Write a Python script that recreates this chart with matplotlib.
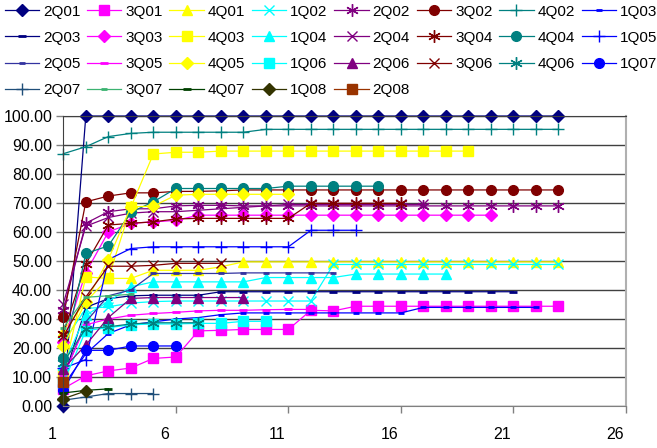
import matplotlib
matplotlib.use("Agg")
import matplotlib.pyplot as plt
import matplotlib.transforms as mtransforms
from matplotlib.ticker import FuncFormatter

# ---------------- data ----------------
labels = ['2Q01', '3Q01', '4Q01', '1Q02', '2Q02', '3Q02', '4Q02', '1Q03',
          '2Q03', '3Q03', '4Q03', '1Q04', '2Q04', '3Q04', '4Q04', '1Q05',
          '2Q05', '3Q05', '4Q05', '1Q06', '2Q06', '3Q06', '4Q06', '1Q07',
          '2Q07', '3Q07', '4Q07', '1Q08', '2Q08']

v_2Q01 = [0.0, 100, 100, 100, 100, 100, 100, 100, 100, 100, 100, 100, 100, 100, 100, 100, 100, 100, 100, 100, 100, 100, 100]
v_3Q01 = [6.0, 10.4, 12.1, 13.1, 16.4, 16.9, 25.9, 26.1, 26.4, 26.4, 26.4, 33.0, 32.8, 34.4, 34.4, 34.4, 34.4, 34.4, 34.4, 34.4, 34.4, 34.4, 34.4]
v_4Q01 = [26.0, 36.0, 44.0, 44.0, 46.8, 46.8, 46.8, 48.0, 49.7, 49.7, 49.7, 49.7, 49.7, 49.7, 49.7, 49.7, 49.7, 49.7, 49.7, 49.7, 49.7, 49.7, 49.7]
v_1Q02 = [22.0, 33.6, 34.2, 35.5, 36.0, 36.2, 36.2, 36.2, 36.2, 36.2, 36.2, 36.2, 48.8, 48.8, 48.8, 48.8, 48.8, 48.8, 48.8, 48.8, 48.8, 48.8, 48.8]
v_2Q02 = [33.0, 63.0, 67.0, 68.0, 68.0, 69.0, 69.2, 69.2, 69.0, 69.0, 69.0, 69.0, 69.0, 69.0, 69.0, 69.0, 69.0, 69.0, 69.0, 69.0, 69.0, 69.0, 69.0]
v_3Q02 = [30.7, 70.4, 72.4, 73.5, 73.5, 74.0, 74.0, 74.2, 74.5, 74.5, 74.5, 74.5, 74.5, 74.5, 74.5, 74.5, 74.5, 74.5, 74.5, 74.5, 74.5, 74.5, 74.5]
v_4Q02 = [87.0, 89.4, 92.9, 94.0, 94.4, 94.4, 94.4, 94.4, 94.4, 95.4, 95.4, 95.4, 95.4, 95.4, 95.4, 95.4, 95.4, 95.4, 95.4, 95.4, 95.4, 95.4, 95.4]
v_1Q03 = [7.0, 18.0, 25.0, 28.0, 29.0, 30.0, 30.5, 31.5, 32.1, 32.1, 32.1, 32.1, 32.1, 32.1, 32.1, 32.1, 34.0, 34.0, 34.0, 34.0, 34.0, 34.0]
v_2Q03 = [9.0, 34.0, 37.0, 38.0, 38.2, 38.2, 38.2, 39.4, 39.4, 39.4, 39.4, 39.4, 39.4, 39.4, 39.4, 39.4, 39.4, 39.4, 39.4, 39.4, 39.4]
v_3Q03 = [22.0, 46.0, 60.0, 63.0, 63.5, 64.0, 65.8, 65.8, 65.8, 65.8, 65.8, 65.8, 65.8, 65.8, 65.8, 65.8, 65.8, 65.8, 65.8, 65.8]
v_4Q03 = [11.0, 44.5, 44.0, 68.5, 86.9, 87.5, 87.5, 87.9, 87.9, 87.9, 87.9, 87.9, 87.9, 87.9, 87.9, 87.9, 87.9, 87.9, 87.9]
v_1Q04 = [14.0, 31.3, 36.0, 41.1, 42.8, 42.8, 42.8, 42.8, 42.8, 44.3, 44.3, 44.3, 44.3, 45.5, 45.5, 45.5, 45.5, 45.5]
v_2Q04 = [35.3, 62.0, 65.0, 66.5, 67.0, 67.0, 67.5, 68.0, 68.5, 69.0, 69.5, 69.5, 69.5, 69.5, 69.5, 69.5, 69.5]
v_3Q04 = [25.0, 49.0, 62.4, 63.0, 63.5, 64.5, 64.7, 64.7, 64.7, 64.7, 64.7, 69.9, 69.9, 69.9, 69.9, 69.9]
v_4Q04 = [16.7, 52.6, 55.2, 66.8, 70.4, 75.0, 75.0, 75.0, 75.0, 75.0, 75.8, 75.8, 75.8, 75.8, 75.8]
v_1Q05 = [13.0, 16.0, 50.5, 54.3, 54.9, 54.9, 54.9, 54.9, 54.9, 54.9, 54.9, 60.6, 60.6, 60.6]
v_2Q05 = [10.0, 29.0, 38.0, 40.0, 45.7, 45.7, 45.7, 45.7, 45.9, 45.9, 45.9, 45.9, 45.9]
v_3Q05 = [10.2, 28.0, 30.0, 31.3, 31.9, 32.3, 32.8, 33.0, 33.0, 33.2, 33.3, 33.3]
v_4Q05 = [20.6, 35.9, 50.5, 68.7, 68.9, 72.7, 73.0, 73.0, 73.0, 73.0, 73.0]
v_1Q06 = [8.0, 26.0, 27.0, 28.0, 28.3, 28.3, 28.5, 28.5, 29.2, 29.2]
v_2Q06 = [12.9, 21.0, 30.5, 37.1, 37.4, 37.4, 37.4, 37.4, 37.4]
v_3Q06 = [24.0, 37.6, 48.2, 48.2, 48.5, 49.2, 49.2, 49.2]
v_4Q06 = [15.0, 26.7, 27.3, 28.3, 28.7, 28.7, 28.7]
v_1Q07 = [5.4, 19.2, 19.2, 20.7, 20.7, 20.7]
v_2Q07 = [2.0, 3.1, 4.3, 4.3, 4.3]
v_3Q07 = [27.0, 37.5, 38.0, 38.5]
v_4Q07 = [4.5, 5.4, 5.9]
v_1Q08 = [2.5, 5.2]
v_2Q08 = [8.3]

series = [v_2Q01, v_3Q01, v_4Q01, v_1Q02, v_2Q02, v_3Q02, v_4Q02, v_1Q03,
          v_2Q03, v_3Q03, v_4Q03, v_1Q04, v_2Q04, v_3Q04, v_4Q04, v_1Q05,
          v_2Q05, v_3Q05, v_4Q05, v_1Q06, v_2Q06, v_3Q06, v_4Q06, v_1Q07,
          v_2Q07, v_3Q07, v_4Q07, v_1Q08, v_2Q08]

x_ticks = [1, 6, 11, 16, 21, 26]
y_ticks = [0, 10, 20, 30, 40, 50, 60, 70, 80, 90, 100]

# ---------------- styles ----------------
NAVY, MAG, YEL, CYA, PUR, DRED, TEAL, BLUE = ('#000080', '#FF00FF', '#FFFF00', '#00FFFF',
                                               '#800080', '#800000', '#008080', '#0000FF')
ASTER = (6, 2, 0)
styles = [
    (NAVY, 'D', 6), (MAG, 's', 6.5), (YEL, '^', 7.5), (CYA, 'x', 7), (PUR, ASTER, 9),
    (DRED, 'o', 7), (TEAL, '+', 9), (BLUE, '_', 5),
    (NAVY, '_', 6), (MAG, 'D', 6), (YEL, 's', 6.5), (CYA, '^', 7.5), (PUR, 'x', 7),
    (DRED, ASTER, 9), (TEAL, 'o', 7), (BLUE, '+', 9),
    ('#3333A0', '_', 4), (MAG, '_', 6), (YEL, 'D', 6), (CYA, 's', 6.5), (PUR, '^', 7.5),
    (DRED, 'x', 7), (TEAL, ASTER, 9), (BLUE, 'o', 7),
    ('#1F4E79', '+', 9), ('#3CB371', '_', 4), ('#004000', '_', 6), ('#333300', 'D', 6),
    ('#993300', 's', 6.5),
]

plt.rcParams['font.family'] = ['Liberation Sans Narrow', 'Liberation Sans', 'DejaVu Sans']

fig = plt.figure(figsize=(6.57, 4.48), dpi=100)
ax = fig.add_axes([63.3 / 657, 42 / 448, (626 - 63.3) / 657, (406 - 116) / 448])

handles = []
for vals, (col, mk, ms), lab in zip(series, styles, labels):
    xs = list(range(1, len(vals) + 1))
    mew = 2.0 if mk == '_' else 1.0
    h, = ax.plot(xs, vals, color=col, lw=0.9, marker=mk, markersize=ms,
                 markeredgecolor=col, markerfacecolor=col, markeredgewidth=mew,
                 label=lab, clip_on=False)
    handles.append(h)

ax.set_xlim(1, 26)
ax.set_ylim(0, 100)
ax.set_xticks(x_ticks)
ax.set_yticks(y_ticks)
ax.yaxis.set_major_formatter(FuncFormatter(lambda v, p: f"{v:.2f}"))
ax.grid(axis='y', color='#404040', lw=1.0)
ax.set_axisbelow(True)
ax.tick_params(axis='both', labelsize=11.5, length=5, width=1, color='#808080', pad=3)
ax.tick_params(axis='x', pad=10)
for lab_t in ax.get_xticklabels():
    lab_t.set_transform(lab_t.get_transform() +
                        mtransforms.ScaledTranslation(-0.11, 0, fig.dpi_scale_trans))
ax.spines['left'].set_color('#404040')
ax.spines['bottom'].set_color('#808080')
ax.spines['right'].set_color('#B0B0B0')
ax.spines['right'].set_linewidth(1.5)
ax.spines['top'].set_color('#404040')

# legend: row-major order in 8 columns
ncol = 8
order = []
for c in range(ncol):
    order.extend(range(c, len(handles), ncol))
fig.legend([handles[i] for i in order], [labels[i] for i in order],
           loc='upper left', bbox_to_anchor=(0.0, 1.0), ncol=ncol, frameon=False,
           fontsize=11, handlelength=2.25, handletextpad=0.25, columnspacing=0.45,
           labelspacing=0.8, borderaxespad=0.1, borderpad=0.2)

fig.savefig('out.png', dpi=100)
